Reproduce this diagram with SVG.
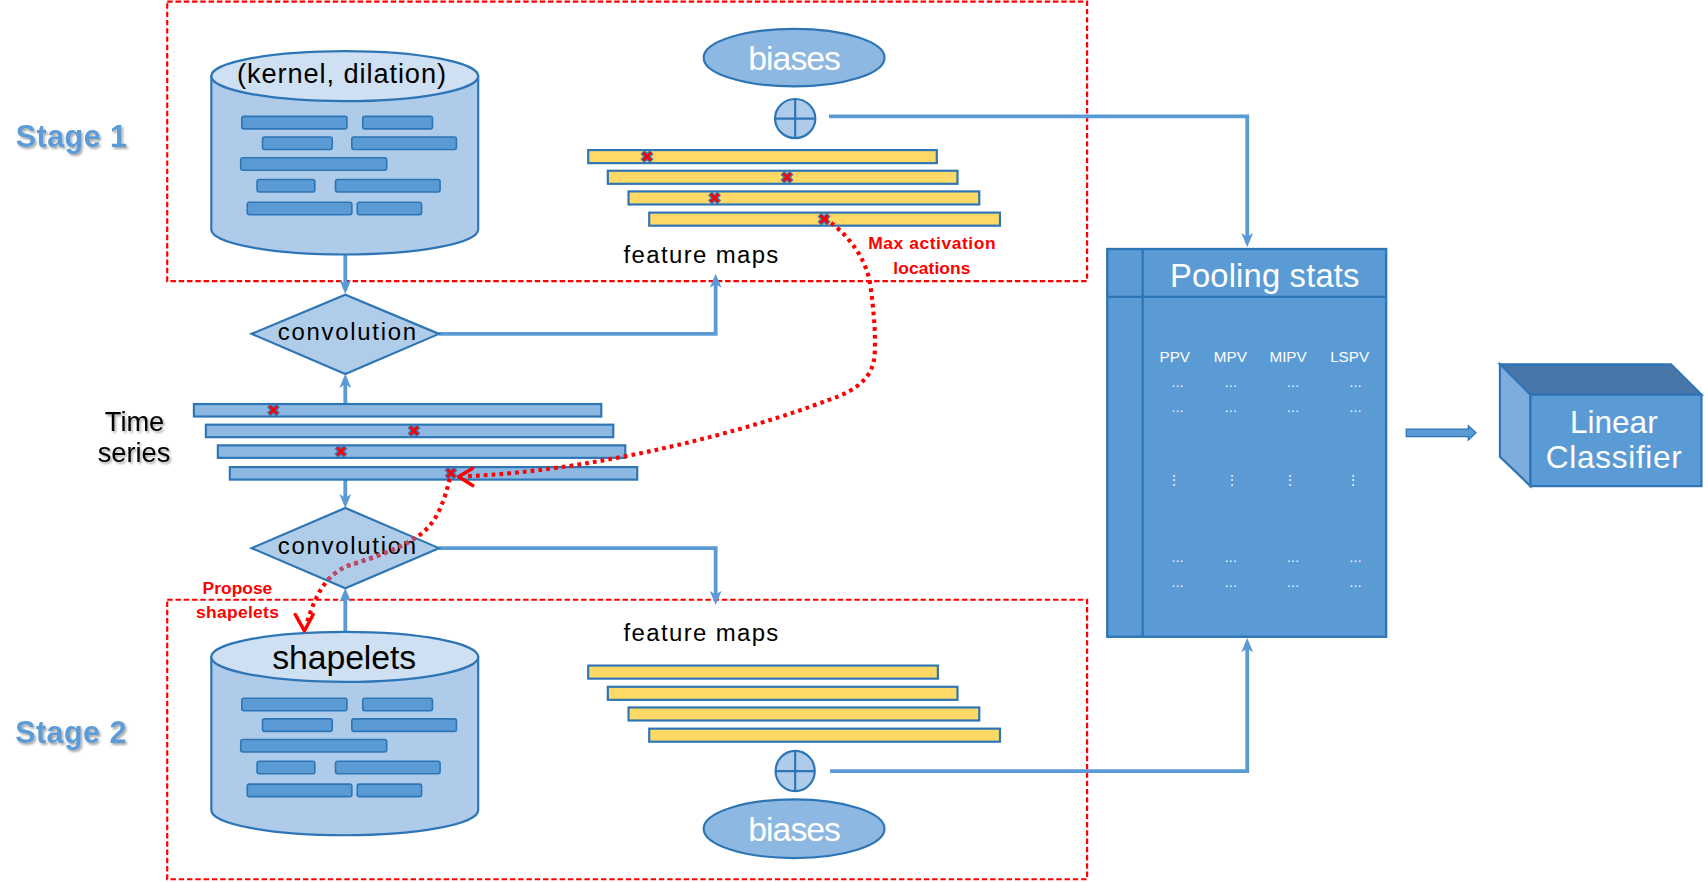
<svg xmlns="http://www.w3.org/2000/svg" xmlns:xlink="http://www.w3.org/1999/xlink" width="1708" height="882" viewBox="0 0 1708 882">
<style>
.conn{fill:none;stroke:#5b9bd5;stroke-width:3.5}
.redbox{fill:none;stroke:#ff0000;stroke-width:2;stroke-dasharray:5 2.6}
.dot{fill:none;stroke:#ff0000;stroke-width:3.8;stroke-dasharray:3.4 3.8}
.cyl{fill:#aecbe9;stroke:#2e75b6;stroke-width:2}
.cyltop{fill:#cfe0f2;stroke:#2e75b6;stroke-width:2}
.kbar{fill:#5b9bd5;stroke:#2e75b6;stroke-width:1.5}
.ts{fill:#8db8e2;stroke:#2e75b6;stroke-width:2}
.fm{fill:#ffd966;stroke:#2e75b6;stroke-width:2}
.dia{fill:#afcde9;stroke:#2e75b6;stroke-width:2}
.bias{fill:#8db8e2;stroke:#2e75b6;stroke-width:2}
.plus{fill:#aecbe9;stroke:#2e75b6;stroke-width:2}
.xo{stroke:#3a78b8;stroke-width:5}
.xi{stroke:#ff0000;stroke-width:2.4}
.pool{fill:#5b9bd5;stroke:#2e75b6;stroke-width:2.2}
text{font-family:"Liberation Sans",Arial,sans-serif}
.blk{fill:#000}
.wht{fill:#fff}
.redt{fill:#ff0000;font-weight:bold;font-size:16px}
.stage{fill:#5b9bd5;font-weight:bold;font-size:28px}
.mid{text-anchor:middle}
</style>
<defs>
<marker id="ah" markerUnits="userSpaceOnUse" viewBox="0 0 12 12" markerWidth="13" markerHeight="13" refX="8" refY="6" orient="auto">
<path d="M0,1 L12,6 L0,11 L3,6 Z" fill="#5b9bd5"/>
</marker>
<filter id="sh" x="-10%" y="-20%" width="130%" height="150%">
<feDropShadow dx="1.5" dy="1.8" stdDeviation="0.9" flood-color="#000" flood-opacity="0.35"/>
</filter>
<g id="xm">
<line class="xo" x1="-4.2" y1="-4.2" x2="4.2" y2="4.2"/><line class="xo" x1="-4.2" y1="4.2" x2="4.2" y2="-4.2"/>
<line class="xi" x1="-3.6" y1="-3.6" x2="3.6" y2="3.6"/><line class="xi" x1="-3.6" y1="3.6" x2="3.6" y2="-3.6"/>
</g>
<g id="kbars">
<rect class="kbar" x="222" y="107" width="96.5" height="11.5" rx="2"/>
<rect class="kbar" x="333" y="107" width="64" height="11.5" rx="2"/>
<rect class="kbar" x="241" y="126" width="64" height="11.5" rx="2"/>
<rect class="kbar" x="323" y="126" width="96" height="11.5" rx="2"/>
<rect class="kbar" x="221" y="145" width="134" height="11.5" rx="2"/>
<rect class="kbar" x="236" y="165" width="53" height="11.5" rx="2"/>
<rect class="kbar" x="308" y="165" width="96" height="11.5" rx="2"/>
<rect class="kbar" x="227" y="186" width="96" height="11.5" rx="2"/>
<rect class="kbar" x="328" y="186" width="59" height="11.5" rx="2"/>
</g>
<clipPath id="diaclip"><polygon points="231,504 317,467 403,504 317,541"/></clipPath>
</defs>
<g transform="scale(1.08929 1.08755)">

<g id="stage1-box"><rect class="redbox" x="153.5" y="1.5" width="844.5" height="257"/></g>
<g id="stage2-box"><rect class="redbox" x="153.5" y="551.5" width="844.5" height="257"/></g>

<g id="stage1-label"><text class="stage" x="14.5" y="135" textLength="102" filter="url(#sh)">Stage 1</text></g>
<g id="stage2-label"><text class="stage" x="14" y="683.5" textLength="102" filter="url(#sh)">Stage 2</text></g>

<g id="connectors">
<line class="conn" x1="317" y1="234" x2="317" y2="266" marker-end="url(#ah)"/>
<line class="conn" x1="317" y1="371" x2="317" y2="348" marker-end="url(#ah)"/>
<line class="conn" x1="317" y1="441" x2="317" y2="463" marker-end="url(#ah)"/>
<line class="conn" x1="317" y1="581" x2="317" y2="545" marker-end="url(#ah)"/>
<polyline class="conn" points="403,307 657,307 657,256" marker-end="url(#ah)"/>
<polyline class="conn" points="403,504 657,504 657,552" marker-end="url(#ah)"/>
<polyline class="conn" points="761,107 1145,107 1145,223" marker-end="url(#ah)"/>
<polyline class="conn" points="762,709 1145,709 1145,591" marker-end="url(#ah)"/>
<polygon points="1291,394.5 1348,394.5 1348,391.5 1355,398 1348,404.5 1348,401.5 1291,401.5" fill="#5b9bd5" stroke="#2e75b6" stroke-width="1.2"/>
</g>

<g id="kernel-db">
<path class="cyl" d="M194,70 V211 A122.5,23 0 0 0 439,211 V70 Z"/>
<ellipse class="cyltop" cx="316.5" cy="70" rx="122.5" ry="23"/>
<use xlink:href="#kbars"/>
<text class="blk mid" x="313.5" y="76.5" font-size="25" textLength="192">(kernel, dilation)</text>
</g>

<g id="shapelets-db">
<path class="cyl" d="M194,604 V745 A122.5,23 0 0 0 439,745 V604 Z"/>
<ellipse class="cyltop" cx="316.5" cy="604" rx="122.5" ry="23"/>
<use xlink:href="#kbars" transform="translate(0,535)"/>
<text class="blk mid" x="316" y="615" font-size="31" textLength="132">shapelets</text>
</g>

<g id="conv1">
<polygon class="dia" points="231,307 317,271 403,307 317,344"/>
<text class="blk mid" x="318.5" y="312.5" font-size="22" textLength="127">convolution</text>
</g>

<g id="time-series">
<rect class="ts" x="178" y="371.5" width="374" height="11.5"/>
<rect class="ts" x="189" y="390.5" width="374" height="11.5"/>
<rect class="ts" x="200" y="409.5" width="374" height="11.5"/>
<rect class="ts" x="211" y="429.5" width="374" height="11.5"/>
<use xlink:href="#xm" x="251" y="377"/>
<use xlink:href="#xm" x="380" y="396"/>
<use xlink:href="#xm" x="313" y="415"/>
<use xlink:href="#xm" x="414" y="435"/>
<text class="blk mid" font-size="25" filter="url(#sh)"><tspan x="123.5" y="396">Time</tspan><tspan x="123" y="424.5">series</tspan></text>
</g>

<g id="conv2">
<polygon class="dia" points="231,504 317,467 403,504 317,541"/>
<text class="blk mid" x="318.5" y="509.5" font-size="22" textLength="127">convolution</text>
</g>

<g id="feature-maps-1">
<rect class="fm" x="540" y="138" width="320" height="12"/>
<rect class="fm" x="558" y="157" width="321" height="12"/>
<rect class="fm" x="577" y="176" width="322" height="12"/>
<rect class="fm" x="596" y="195.5" width="322" height="12"/>
<use xlink:href="#xm" x="594" y="144"/>
<use xlink:href="#xm" x="722.5" y="163"/>
<use xlink:href="#xm" x="656" y="182"/>
<use xlink:href="#xm" x="756.5" y="201.5"/>
<text class="blk mid" x="643.5" y="242" font-size="22" textLength="142">feature maps</text>
</g>

<g id="biases-1">
<ellipse class="bias" cx="729" cy="53" rx="83" ry="26.5"/>
<text class="wht mid" x="729.5" y="64.5" font-size="31" textLength="85">biases</text>
</g>
<g id="plus-1">
<ellipse class="plus" cx="730" cy="109" rx="18.5" ry="18"/>
<line x1="711.5" y1="109" x2="748.5" y2="109" stroke="#2e75b6" stroke-width="2"/>
<line x1="730" y1="91" x2="730" y2="127" stroke="#2e75b6" stroke-width="2"/>
</g>

<g id="feature-maps-2">
<text class="blk mid" x="643.5" y="589.5" font-size="22" textLength="142">feature maps</text>
<rect class="fm" x="540" y="612" width="321" height="12"/>
<rect class="fm" x="558" y="631.5" width="321" height="12"/>
<rect class="fm" x="577" y="650.5" width="322" height="12"/>
<rect class="fm" x="596" y="670" width="322" height="12"/>
</g>
<g id="plus-2">
<ellipse class="plus" cx="730" cy="709" rx="18" ry="18.5"/>
<line x1="712" y1="709" x2="748" y2="709" stroke="#2e75b6" stroke-width="2"/>
<line x1="730" y1="690.5" x2="730" y2="727.5" stroke="#2e75b6" stroke-width="2"/>
</g>
<g id="biases-2">
<ellipse class="bias" cx="729" cy="762" rx="83" ry="27"/>
<text class="wht mid" x="729.5" y="773.5" font-size="31" textLength="85">biases</text>
</g>

<g id="pooling-stats">
<rect class="pool" x="1016.5" y="229" width="256" height="356.5"/>
<line x1="1049" y1="229" x2="1049" y2="585.5" stroke="#2e75b6" stroke-width="2"/>
<line x1="1016.5" y1="273" x2="1272.5" y2="273" stroke="#2e75b6" stroke-width="2"/>
<text class="wht mid" x="1161" y="263.5" font-size="30" textLength="174">Pooling stats</text>
<g class="wht" font-size="14" text-anchor="middle">
<text x="1078.5" y="332.5">PPV</text><text x="1129.5" y="332.5">MPV</text><text x="1182.5" y="332.5">MIPV</text><text x="1239" y="332.5">LSPV</text>
</g>
<g class="wht" font-size="12" text-anchor="middle">
<text x="1081" y="356">…</text><text x="1130" y="356">…</text><text x="1187" y="356">…</text><text x="1244.5" y="356">…</text>
<text x="1081" y="379">…</text><text x="1130" y="379">…</text><text x="1187" y="379">…</text><text x="1244.5" y="379">…</text>
<text x="1081" y="517">…</text><text x="1130" y="517">…</text><text x="1187" y="517">…</text><text x="1244.5" y="517">…</text>
<text x="1081" y="540">…</text><text x="1130" y="540">…</text><text x="1187" y="540">…</text><text x="1244.5" y="540">…</text>
</g>
<g class="wht" font-size="11" text-anchor="middle" style="font-family:'DejaVu Sans',sans-serif">
<text x="1077.5" y="445">⋮</text><text x="1131" y="445">⋮</text><text x="1184.5" y="445">⋮</text><text x="1242" y="445">⋮</text>
</g>
</g>

<g id="linear-classifier">
<polygon points="1377,335 1534,335 1562,363 1405,363" fill="#4677a8" stroke="#2e75b6" stroke-width="2"/>
<polygon points="1377,335 1405,363 1405,447 1377,420" fill="#7eacdc" stroke="#2e75b6" stroke-width="2"/>
<rect x="1405" y="363" width="157" height="84" fill="#5b9bd5" stroke="#2e75b6" stroke-width="2"/>
<text class="wht mid" x="1481.5" y="398.5" font-size="29">Linear</text>
<text class="wht mid" x="1481.5" y="430.5" font-size="29" textLength="125">Classifier</text>
</g>

<g id="red-annotations">
<path class="dot" d="M757,201 C775,212 795,235 799,262 C802,285 804,305 803,325 C802,345 790,358 760,368 C690,395 550,433 426,438"/>
<polyline points="434,430.5 421,438.3 434,446.5" fill="none" stroke="#ff0000" stroke-width="3.2" stroke-linecap="round" stroke-linejoin="round"/>
<path class="dot" d="M413,440 C408,460 402,477 390,488 C375,502 345,512 320,520 C300,528 290,545 281,575"/>
<path class="dot" style="stroke:#b0506e" clip-path="url(#diaclip)" d="M413,440 C408,460 402,477 390,488 C375,502 345,512 320,520 C300,528 290,545 281,575"/>
<polyline points="271,565 279.5,580 287.5,565" fill="none" stroke="#ff0000" stroke-width="3.2" stroke-linecap="round" stroke-linejoin="round"/>
<text class="redt mid" x="855.5" y="229" textLength="117">Max activation</text>
<text class="redt mid" x="855.5" y="252" textLength="71">locations</text>
<text class="redt mid" x="218" y="546" textLength="64">Propose</text>
<text class="redt mid" x="218" y="568.5" textLength="76">shapelets</text>
</g>

</g>
</svg>
